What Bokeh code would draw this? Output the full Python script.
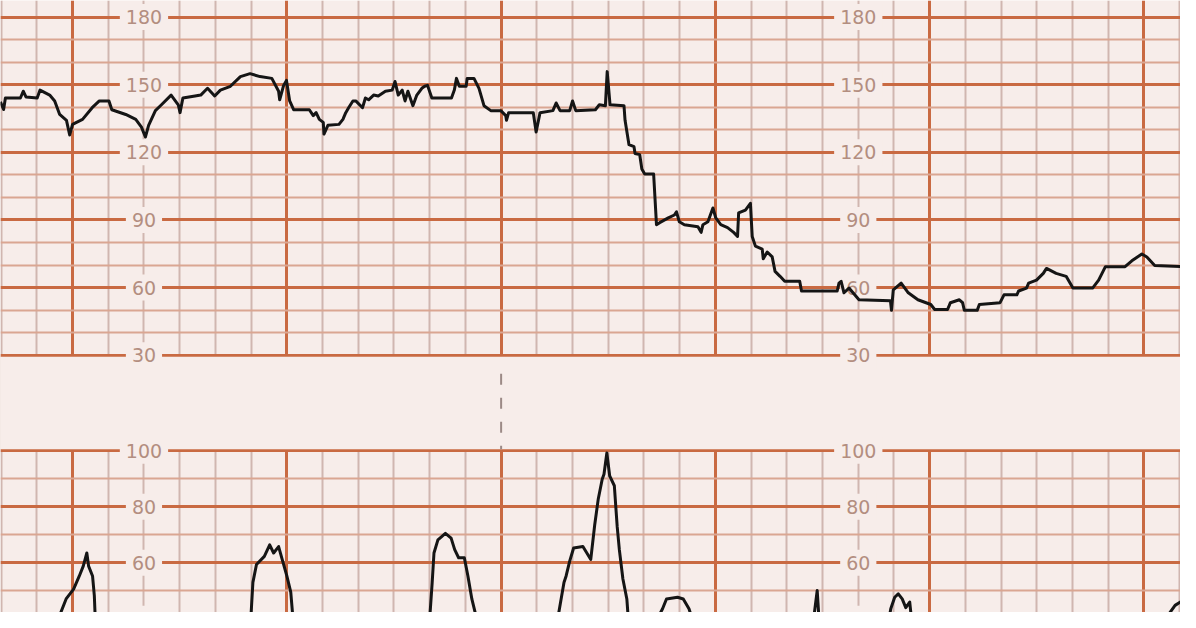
from bokeh.plotting import figure
from bokeh.models import Range1d, FixedTicker, Grid
from bokeh.core.properties import value
from bokeh.embed import file_html
from bokeh.resources import INLINE

# ---------------- data ----------------
# Fetal heart rate (bpm) vs time (s)
fhr_t = [-20.2, -19.3, -18.8, -18.2, -14.6, -13.8, -13.0, -9.9, -9.1, -6.4, -5.0, -3.6, -1.7, -0.8,
         0.0, 2.8, 5.5, 7.5, 10.2, 11.0, 14.9, 17.7, 19.3, 20.4, 21.3, 23.2, 24.9, 27.6, 29.6, 30.1,
         30.9, 34.3, 35.9, 37.8, 39.8, 41.4, 44.2, 47.0, 49.7, 52.5, 55.8, 57.7, 58.0, 59.1, 59.9,
         60.8, 61.9, 66.3, 67.4, 68.2, 69.1, 70.2, 70.4, 71.5, 74.6, 75.7, 76.5, 77.3, 78.5, 79.3,
         81.2, 82.0, 82.9, 84.3, 85.6, 87.6, 89.5, 90.3, 91.2, 92.3, 93.1, 93.9, 95.3, 96.4, 97.8,
         98.6, 99.4, 100.6, 106.1, 106.9, 107.5, 108.3, 110.2, 110.5, 112.4, 113.8, 115.2, 117.1,
         119.9, 121.3, 121.5, 122.1, 129.0, 129.8, 130.9, 134.5, 135.4, 136.5, 139.2, 140.0, 140.9,
         146.4, 147.5, 149.2, 149.7, 150.5, 154.4, 154.7, 155.8, 157.2, 157.5, 158.8, 159.4, 160.2,
         162.7, 163.5, 164.4, 166.8, 168.5, 169.1, 169.9, 171.3, 175.1, 176.0, 176.5, 177.9, 179.3,
         180.1, 181.5, 183.4, 185.1, 186.2, 186.5, 188.4, 189.8, 190.3, 191.2, 193.1, 193.4, 194.5,
         195.9, 196.7, 198.1, 199.4, 203.6, 204.1, 214.1, 214.6, 215.2, 216.0, 217.4, 220.2, 229.0,
         229.3, 229.8, 232.0, 234.0, 236.7, 240.3, 241.4, 245.0, 245.8, 248.3, 249.2, 249.7, 253.3,
         253.9, 259.7, 260.8, 264.4, 264.9, 267.1, 267.7, 269.9, 271.8, 272.7, 275.4, 278.2, 280.1,
         285.6, 287.3, 289.2, 294.7, 296.6, 299.4, 300.8, 303.0, 310.2]
fhr_bpm = [142.4, 139.0, 144.1, 144.1, 144.1, 147.1, 144.5, 144.1, 147.6, 145.4, 142.8, 136.8, 134.2, 127.7,
           132.4, 134.6, 139.8, 142.8, 142.8, 138.9, 136.8, 134.6, 131.2, 126.8, 132.0, 138.5, 141.1, 145.4, 141.1, 137.6,
           144.1, 145.0, 145.4, 148.4, 145.0, 147.6, 149.3, 153.6, 154.9, 153.6, 152.8, 147.1, 143.3, 149.7, 151.9,
           142.8, 138.9, 138.9, 136.3, 137.6, 134.6, 133.3, 128.1, 132.0, 132.4, 134.6, 137.6, 139.8, 142.8, 142.8,
           139.8, 144.1, 143.3, 145.4, 145.0, 147.1, 147.6, 151.4, 145.4, 147.6, 142.8, 147.1, 140.7, 145.4, 148.4,
           149.3, 149.7, 144.1, 144.1, 147.6, 152.8, 149.3, 149.3, 152.8, 152.8, 148.4, 140.7, 138.5,
           138.5, 136.3, 134.2, 137.6, 137.6, 129.0, 137.6, 138.5, 141.9, 138.5, 138.5, 142.8, 138.5,
           138.9, 141.1, 140.7, 155.8, 141.1, 140.7, 134.2, 123.4, 122.5, 119.5, 119.0, 112.6, 110.4,
           110.4, 87.9, 88.8, 90.9, 92.2, 93.6, 89.2, 87.9, 87.0, 84.5, 87.9, 89.2, 95.3,
           90.9, 87.9, 86.6, 84.5, 82.7, 93.1, 94.4, 97.4, 82.7, 78.4, 77.1, 72.8, 75.8,
           73.6, 67.2, 65.0, 62.8, 62.8, 58.5, 58.5, 62.0, 62.8, 57.7, 59.8, 54.6, 54.2,
           49.9, 59.0, 62.0, 57.7, 54.6, 52.5, 50.3, 50.3, 53.3, 54.6, 53.3, 49.9, 49.9,
           52.5, 53.3, 56.8, 56.8, 58.5, 59.8, 62.0, 63.3, 66.3, 68.5, 66.3, 65.0, 59.8,
           59.8, 63.3, 69.3, 69.3, 71.9, 74.9, 73.6, 69.8, 69.3]

# Uterine activity (toco units) vs time (s)
toco_t = [-20.0, -6.0, -3.4, -1.8, 0.3, 1.9, 3.0, 4.0, 4.5, 5.6, 6.1, 6.3, 8.0,
          48.0, 50.0, 50.5, 51.5, 53.7, 55.2, 56.3, 57.7, 58.7, 60.0, 61.1, 61.6, 64.0,
          98.0, 100.1, 100.7, 101.2, 102.3, 104.4, 106.0, 107.0, 108.1, 109.7, 110.7, 111.8, 112.8, 115.0,
          134.0, 136.1, 137.6, 138.2, 139.2, 140.3, 142.9, 144.0, 145.1, 146.2, 147.2, 148.3, 148.8,
          149.6, 150.4, 151.7, 152.5, 153.1, 154.1, 155.2, 155.5, 158.0,
          162.0, 164.5, 165.2, 166.3, 169.4, 171.0, 172.6, 173.5, 176.0,
          205.0, 207.5, 208.5, 209.0, 212.0,
          226.0, 228.6, 229.1, 230.2, 231.2, 232.3, 233.3, 234.4, 234.9, 237.0,
          300.0, 306.0, 308.7, 310.8]
toco_val = [30, 32, 41.9, 47.1, 50.6, 55.3, 58.8, 63.5, 58.8, 55.3, 48.3, 41.9, 30,
            30, 41.9, 53.0, 59.4, 62.3, 66.4, 63.5, 65.8, 61.2, 55.3, 49.5, 41.9, 30,
            30, 41.9, 53.0, 63.5, 68.2, 70.5, 68.8, 64.7, 61.8, 61.8, 55.3, 47.1, 41.9, 30,
            30, 41.9, 53.0, 55.3, 60.6, 65.3, 65.8, 63.5, 61.2, 73.5, 82.8, 89.8, 91.6,
            99.2, 91.0, 87.5, 72.9, 64.7, 54.2, 47.1, 41.9, 30,
            30, 41.9, 43.6, 47.1, 47.7, 47.1, 43.6, 40, 30,
            30, 40, 50.1, 40, 30,
            30, 40, 43.6, 47.7, 48.9, 47.1, 44.0, 46.0, 40, 30,
            30, 40, 44.8, 46.5]

# grid / tick values
fhr_major = [30, 60, 90, 120, 150, 180]
fhr_minor = [40, 50, 70, 80, 100, 110, 130, 140, 160, 170, 190]
toco_major = [40, 60, 80, 100]
toco_minor = [50, 70, 90]
time_major = [0, 60, 120, 180, 240, 300]
time_minor = [-20, -10] + [v for v in range(10, 320, 10) if v % 60 != 0]
label_times = [20, 220]
fhr_labels = [30, 60, 90, 120, 150, 180]
toco_labels = [40, 60, 80, 100]
page_break_t = [120]

# ---------------- style ----------------
BG = "#f7edea"
MAJOR = "#c96a42"
MINOR_H = "#daa692"
MINOR_V = "#d0b6b0"
LABEL = "#b38e80"
DASH = "#9c8a86"
INK = "#151515"
FONT = value("DejaVu Sans")

p = figure(width=1180, height=612,
           x_range=Range1d(-20.17, 310.22),
           y_range=Range1d(-84.12, 187.35),
           output_backend="svg", toolbar_location=None,
           x_axis_location=None, y_axis_location=None,
           min_border=0, background_fill_color=BG, border_fill_color=BG,
           outline_line_color=None)
p.extra_y_ranges = {"toco": Range1d(42.26, 260.70)}

# vertical grid
xg = p.xgrid[0]
xg.ticker = FixedTicker(ticks=time_major, minor_ticks=time_minor)
xg.grid_line_color = MAJOR
xg.grid_line_width = 3
xg.minor_grid_line_color = MINOR_V
xg.minor_grid_line_width = 2

# FHR horizontal grid
yg = p.ygrid[0]
yg.ticker = FixedTicker(ticks=fhr_major, minor_ticks=fhr_minor)
yg.grid_line_color = MAJOR
yg.grid_line_width = 3
yg.minor_grid_line_color = MINOR_H
yg.minor_grid_line_width = 2

# Toco horizontal grid
tg = Grid(dimension=1, y_range_name="toco",
          ticker=FixedTicker(ticks=toco_major, minor_ticks=toco_minor),
          grid_line_color=MAJOR, grid_line_width=3,
          minor_grid_line_color=MINOR_H, minor_grid_line_width=2)
p.add_layout(tg)

# blank band between the two strips
p.quad(left=[-40], right=[330], top=[29.35], bottom=[-11.72],
       fill_color=BG, line_color=None)
# dashed page-break marker in the band
p.segment(x0=page_break_t, y0=[21.8], x1=page_break_t, y1=[-11.72],
          line_color=DASH, line_width=2, line_dash="11 13")

# scale labels
lx = [t for t in label_times for _ in fhr_labels]
ly = [v for _ in label_times for v in fhr_labels]
p.text(x=lx, y=ly, text=[str(v) for v in ly], text_font=FONT, text_font_size="19px",
       text_color=LABEL, text_align="center", text_baseline="middle",
       background_fill_color=BG, padding=6)
tx = [t for t in label_times for _ in toco_labels]
ty = [v for _ in label_times for v in toco_labels]
p.text(x=tx, y=ty, text=[str(v) for v in ty], text_font=FONT, text_font_size="19px",
       text_color=LABEL, text_align="center", text_baseline="middle",
       background_fill_color=BG, padding=6, y_range_name="toco")

# traces
p.line(fhr_t, fhr_bpm, line_color=INK, line_width=3, line_join="round")
p.line(toco_t, toco_val, line_color=INK, line_width=3, line_join="round",
       y_range_name="toco")

open("out.html", "w").write(file_html(p, INLINE))
